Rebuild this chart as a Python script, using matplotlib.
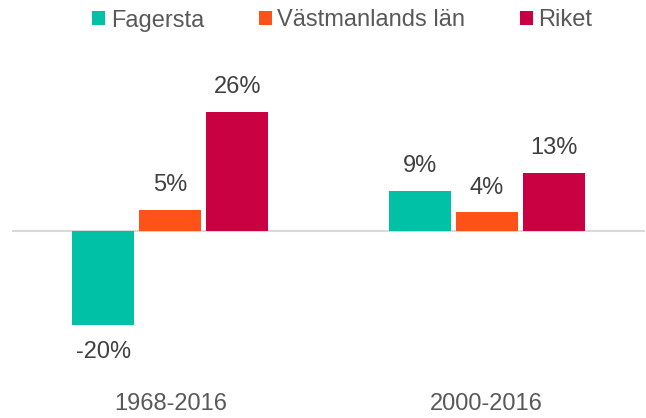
import matplotlib
matplotlib.use("Agg")
import matplotlib.pyplot as plt
import numpy as np

categories = ["1968-2016", "2000-2016"]
series_names = ["Fagersta", "Västmanlands län", "Riket"]
fagersta = [-20.4, 8.7]
vastmanland = [4.6, 4.0]
riket = [25.8, 12.6]
colors = ["#00C0A5", "#FF5219", "#C90042"]

plt.rcParams['font.family'] = ['Liberation Sans', 'DejaVu Sans']

W, H = 646, 418
FS = 17
fig = plt.figure(figsize=(W / 100, H / 100), dpi=100)
ax = fig.add_axes([12 / W, (H - 340) / H, 633 / W, 250 / H])

x = np.arange(len(categories))
step = 0.212
width = 0.196
all_series = [fagersta, vastmanland, riket]
for i, (vals, name, c) in enumerate(zip(all_series, series_names, colors)):
    pos = x + (i - 1) * step
    ax.bar(pos, vals, width, color=c, label=name, zorder=2)
    for px, v in zip(pos, vals):
        off = 17.6 if v >= 0 else -19
        ax.annotate(f"{v:.0f}%", (px, v), xytext=(0, off), textcoords="offset points",
                    ha="center", va="center", fontsize=FS, color="#404040")

ax.axhline(0, color="#D9D9D9", lw=1.5, zorder=1)
ax.set_xlim(-0.5, 1.5)
ax.set_ylim(-23.6, 30.5)
ax.set_xticks(x)
ax.set_xticklabels(categories, fontsize=FS, color="#595959")
ax.tick_params(axis="x", length=0, pad=37.8)
ax.set_yticks([])
for s in ax.spines.values():
    s.set_visible(False)

fig.legend(loc="center left", bbox_to_anchor=(92.5 / W, 1 - 20.5 / H), ncol=3, frameon=False,
           fontsize=FS, handlelength=0.54, handleheight=0.54, handletextpad=0.23,
           columnspacing=2.33, borderpad=0, borderaxespad=0, labelcolor="#595959")

fig.savefig("out.png", dpi=100)
